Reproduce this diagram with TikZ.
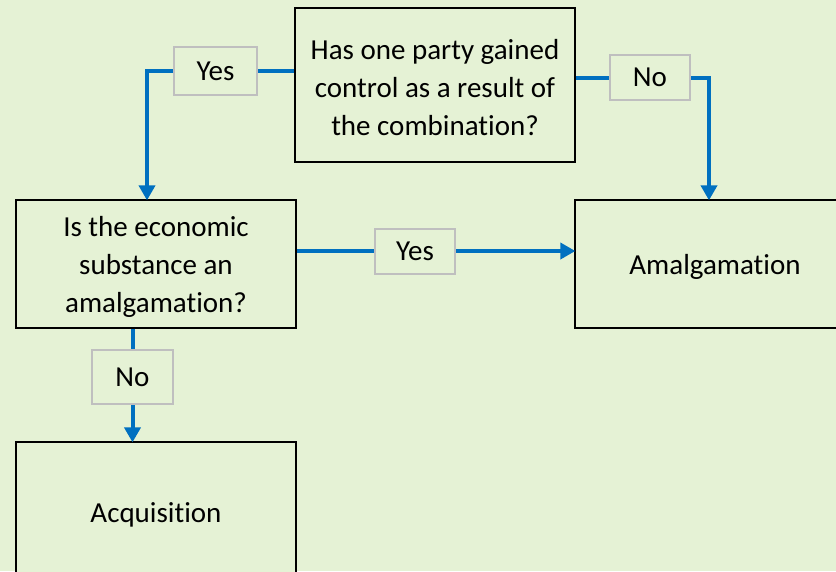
\documentclass[tikz,border=0pt]{standalone}
\usepackage{fontspec}
\setmainfont[Ligatures=NoCommon,Contextuals=NoAlternate]{Carlito}
\usetikzlibrary{arrows.meta}
\definecolor{bg}{HTML}{E5F2D5}
\definecolor{arrowblue}{HTML}{0070C0}
\definecolor{lblgray}{HTML}{BFBFBF}
\newcommand{\boxtext}[1]{\raisebox{-3pt}[\height][\depth]{\parbox{270pt}{\centering #1}}}
\begin{document}
\begin{tikzpicture}[x=1pt,y=-1pt,
  every node/.style={font=\fontsize{29}{38}\selectfont, text=black},
  box/.style={draw=black, line width=1.3pt, fill=bg, align=center, inner sep=0pt},
  lbl/.style={draw=lblgray, line width=2pt, fill=bg, inner sep=0pt},
  conn/.style={draw=arrowblue, line width=4pt},
  arr/.style={conn, -{Triangle[width=16pt,length=15pt]}, shorten >=-1pt}]
\fill[bg] (0,0) rectangle (836,571);
\useasboundingbox (0,0) rectangle (836,571);
\clip (0,0) rectangle (836,571);
\node[box, minimum width=280pt, minimum height=154pt] (q1) at (435,85)
  {\boxtext{Has one party gained\\control as a result of\\the combination?}};
\node[box, minimum width=280pt, minimum height=128pt] (q2) at (156,264)
  {\boxtext{Is the economic\\substance an\\amalgamation?}};
\node[box, minimum width=280pt, minimum height=128pt] (am) at (715,264) {\boxtext{Amalgamation}};
\node[box, minimum width=280pt, minimum height=140pt] (ac) at (156,512) {\boxtext{Acquisition}};
\node[lbl, minimum width=83pt, minimum height=48pt] (yes1) at (215.5,71) {Yes};
\node[lbl, minimum width=80pt, minimum height=45pt] (no1) at (650,77.5) {No};
\node[lbl, minimum width=80pt, minimum height=45pt] (yes2) at (415,251) {Yes};
\node[lbl, minimum width=81pt, minimum height=54pt] (no2) at (132.5,377) {No};
\coordinate (c1) at (147,72);
\coordinate (c2) at (709,78);
% top-left
\draw[conn] (q1.west |- yes1) -- (yes1.east);
\draw[arr] (yes1.west) -| (c1 |- q2.north);
% top-right
\draw[conn] (q1.east |- no1) -- (no1.west);
\draw[arr] (no1.east) -| (c2 |- am.north);
% middle
\draw[conn] (q2.east |- yes2) -- (yes2.west);
\draw[arr] (yes2.east) -- (am.west |- yes2);
% bottom
\draw[conn] (no2 |- q2.south) -- (no2.north);
\draw[arr] (no2.south) -- (no2 |- ac.north);
\end{tikzpicture}
\end{document}
